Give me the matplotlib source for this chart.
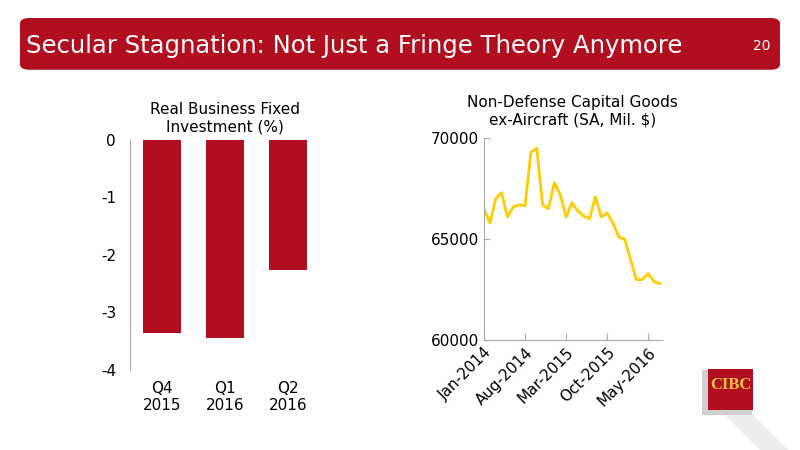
import matplotlib
matplotlib.use("Agg")
import matplotlib.pyplot as plt
from matplotlib.patches import FancyBboxPatch, Rectangle, Polygon

# bar chart data
quarters = ["Q4\n2015", "Q1\n2016", "Q2\n2016"]
bfi_growth = [-3.35, -3.45, -2.27]

# line chart data (monthly, Jan-2014 .. Jul-2016)
capgoods = [66500, 65800, 67000, 67300, 66100, 66600, 66700, 66650, 69300, 69500,
            66700, 66500, 67800, 67200, 66100, 66800, 66400, 66150, 66000, 67100,
            66100, 66300, 65800, 65100, 65000, 64000, 63000, 63000, 63300, 62900,
            62800]
tick_idx = [0, 7, 14, 21, 28]
tick_labels = ["Jan-2014", "Aug-2014", "Mar-2015", "Oct-2015", "May-2016"]

RED = "#B10F1F"
GOLD = "#FFCC00"

fig = plt.figure(figsize=(8, 4.5), dpi=100)

# title banner
fig.patches.append(FancyBboxPatch((0.025, 0.845), 0.95, 0.115, boxstyle="round,pad=0,rounding_size=0.012",
                                  transform=fig.transFigure, facecolor=RED, edgecolor="none"))
fig.text(0.033, 0.898, "Secular Stagnation: Not Just a Fringe Theory Anymore", color="white",
         fontsize=17.5, va="center", ha="left")
fig.text(0.952, 0.898, "20", color="white", fontsize=10, va="center", ha="center")

# bar chart
ax1 = fig.add_axes([0.1625, 0.178, 0.2375, 0.511])
x = range(len(quarters))
ax1.bar(x, bfi_growth, width=0.6, color=RED)
ax1.set_ylim(-4, 0)
ax1.set_xlim(-0.5, 2.5)
ax1.set_yticks([0, -1, -2, -3, -4])
ax1.set_yticklabels(["0", "-1", "-2", "-3", "-4"])
ax1.set_xticks(list(x))
ax1.set_xticklabels(quarters)
ax1.tick_params(axis="x", length=0, pad=8)
ax1.tick_params(axis="y", length=0, pad=10)
ax1.tick_params(labelsize=11)
for s in ["top", "right", "bottom"]:
    ax1.spines[s].set_visible(False)
ax1.spines["left"].set_color("#aaaaaa")
ax1.set_title("Real Business Fixed\nInvestment (%)", fontsize=11, pad=6)

# line chart
ax2 = fig.add_axes([0.605, 0.244, 0.222, 0.449])
ax2.plot(range(len(capgoods)), capgoods, color=GOLD, lw=2)
ax2.set_ylim(60000, 70000)
ax2.set_xlim(0, 30.3)
ax2.set_yticks([60000, 65000, 70000])
ax2.set_xticks(tick_idx)
ax2.set_xticklabels(tick_labels, rotation=45, ha="right", rotation_mode="anchor")
ax2.tick_params(labelsize=11, color="#aaaaaa")
ax2.tick_params(axis="x", length=5, direction="in")
ax2.tick_params(axis="y", length=4, direction="in")
for s in ["top", "right"]:
    ax2.spines[s].set_visible(False)
ax2.spines["left"].set_color("#aaaaaa")
ax2.spines["bottom"].set_color("#aaaaaa")
ax2.set_title("Non-Defense Capital Goods\nex-Aircraft (SA, Mil. $)", fontsize=11, pad=10)

# logo
fig.patches.append(Polygon([(0.905, 0.08), (0.94, 0.08), (0.985, 0.0), (0.95, 0.0)],
                           closed=True, transform=fig.transFigure, facecolor="#ececec", edgecolor="none"))
fig.patches.append(Rectangle((0.878, 0.078), 0.062, 0.1, transform=fig.transFigure,
                             facecolor="#d0d0d0", edgecolor="none"))
fig.patches.append(Rectangle((0.885, 0.09), 0.056, 0.09, transform=fig.transFigure,
                             facecolor=RED, edgecolor="none"))
fig.text(0.913, 0.145, "CIBC", color="#F5C242", fontsize=12, fontweight="bold",
         ha="center", va="center", family="Liberation Serif")

fig.savefig("out.png", dpi=100)
